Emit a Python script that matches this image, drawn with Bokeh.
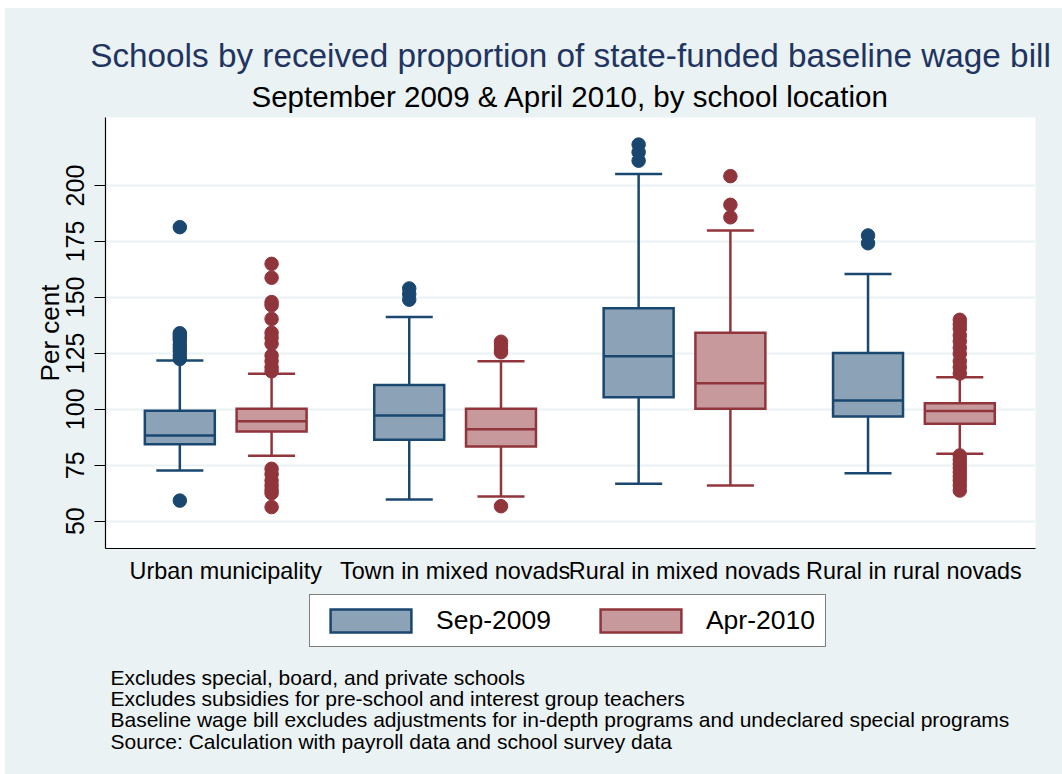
from bokeh.plotting import figure
from bokeh.layouts import column
from bokeh.models import Range1d, FixedTicker, Legend, LegendItem, Title, Label
from bokeh.embed import file_html
from bokeh.resources import INLINE

# ---------------- data ----------------
categories = ["Urban municipality", "Town in mixed novads",
              "Rural in mixed novads", "Rural in rural novads"]
series = ["Sep-2009", "Apr-2010"]

sep_low = [72.7, 59.7, 66.7, 71.4]
sep_q1 = [84.4, 86.4, 105.4, 96.8]
sep_med = [88.3, 97.2, 123.7, 103.9]
sep_q3 = [99.4, 110.9, 145.2, 125.2]
sep_high = [121.8, 141.2, 205.2, 160.5]
sep_outliers = [
    [181.4, 134.0, 133.0, 132.0, 131.0, 129.0, 127.5, 126.0, 124.0, 122.5, 59.2],
    [154.0, 151.5, 149.0],
    [218.3, 214.9, 211.1],
    [177.7, 174.2],
]

apr_low = [79.2, 61.0, 66.0, 80.1]
apr_q1 = [90.1, 83.4, 100.2, 93.5]
apr_med = [94.7, 91.1, 111.7, 99.2]
apr_q3 = [100.2, 100.2, 134.2, 102.7]
apr_high = [115.9, 121.5, 179.9, 114.3]
apr_outliers = [
    [165.0, 158.8, 147.9, 146.5, 140.4, 134.2, 132.0, 129.3, 124.0, 121.5,
     118.8, 117.0, 73.4, 71.0, 68.2, 66.0, 64.0, 62.5, 56.3],
    [130.2, 128.5, 126.5, 125.5, 56.7],
    [204.2, 191.4, 185.8],
    [140.0, 138.0, 136.0, 133.0, 130.4, 127.5, 124.8, 121.5, 118.8, 116.0,
     79.4, 77.5, 75.6, 73.8, 71.9, 70.0, 68.2, 66.0, 63.7],
]

y_ticks = [50, 75, 100, 125, 150, 175, 200]

title_text = "Schools by received proportion of state-funded baseline wage bill"
subtitle_text = "September 2009 & April 2010, by school location"
notes = [
    "Excludes special, board, and private schools",
    "Excludes subsidies for pre-school and interest group teachers",
    "Baseline wage bill excludes adjustments for in-depth programs and undeclared special programs",
    "Source: Calculation with payroll data and school survey data",
]

# ---------------- style ----------------
FONT = "Liberation Sans"
BG = "#EAF2F3"
styles = {
    "Sep-2009": dict(fill="#8CA3B7", line="#1A476F", offset=-0.2),
    "Apr-2010": dict(fill="#C7999C", line="#90353B", offset=0.2),
}
BOX_W = 0.305
CAP_W = 0.205
LW = 2.5
BORDER_L, BORDER_R = 100, 27

# ================= main chart =================
p = figure(width=1057, height=582, output_backend="svg", toolbar_location=None,
           x_range=Range1d(-0.524, 3.530), y_range=Range1d(37.8, 230.4),
           min_border_left=BORDER_L, min_border_right=BORDER_R, min_border_top=109,
           min_border_bottom=42)
p.background_fill_color = "white"
p.border_fill_color = BG
p.outline_line_color = None

data = {
    "Sep-2009": (sep_low, sep_q1, sep_med, sep_q3, sep_high, sep_outliers),
    "Apr-2010": (apr_low, apr_q1, apr_med, apr_q3, apr_high, apr_outliers),
}

for s in series:
    low, q1, med, q3, high, outs = data[s]
    st = styles[s]
    xs = [i + st["offset"] for i in range(len(categories))]
    p.segment(x0=xs, x1=xs, y0=q3, y1=high, line_color=st["line"], line_width=LW)
    p.segment(x0=xs, x1=xs, y0=low, y1=q1, line_color=st["line"], line_width=LW)
    p.segment(x0=[x - CAP_W / 2 for x in xs], x1=[x + CAP_W / 2 for x in xs],
              y0=high, y1=high, line_color=st["line"], line_width=LW)
    p.segment(x0=[x - CAP_W / 2 for x in xs], x1=[x + CAP_W / 2 for x in xs],
              y0=low, y1=low, line_color=st["line"], line_width=LW)
    p.quad(left=[x - BOX_W / 2 for x in xs], right=[x + BOX_W / 2 for x in xs],
           bottom=q1, top=q3, fill_color=st["fill"], line_color=st["line"],
           line_width=LW, line_join="miter")
    p.segment(x0=[x - BOX_W / 2 for x in xs], x1=[x + BOX_W / 2 for x in xs],
              y0=med, y1=med, line_color=st["line"], line_width=LW)
    ox, oy = [], []
    for x, o in zip(xs, outs):
        ox += [x] * len(o)
        oy += o
    p.scatter(ox, oy, size=13.5, fill_color=st["line"], line_color=st["line"])

# axes
p.xaxis.ticker = FixedTicker(ticks=list(range(len(categories))))
p.xaxis.major_label_overrides = {i: c for i, c in enumerate(categories)}
p.xaxis.major_tick_out = 0
p.xaxis.major_tick_in = 0
p.xaxis.minor_tick_out = 0
p.xaxis.minor_tick_in = 0
p.xaxis.major_label_text_font = FONT
p.xaxis.major_label_text_font_size = "23.4px"
p.xaxis.major_label_text_color = "black"
p.xaxis.major_label_standoff = 9
p.xaxis.axis_line_color = "black"
p.xaxis.axis_line_width = 1.2

p.yaxis.ticker = FixedTicker(ticks=y_ticks)
p.yaxis.major_label_orientation = "vertical"
p.yaxis.major_tick_out = 11
p.yaxis.major_tick_in = 0
p.yaxis.minor_tick_out = 0
p.yaxis.minor_tick_in = 0
p.yaxis.major_tick_line_color = "black"
p.yaxis.major_label_text_font = FONT
p.yaxis.major_label_text_font_size = "25px"
p.yaxis.major_label_text_color = "black"
p.yaxis.major_label_standoff = 10
p.yaxis.axis_label = "Per cent"
p.yaxis.axis_label_text_font = FONT
p.yaxis.axis_label_text_font_size = "26px"
p.yaxis.axis_label_text_font_style = "normal"
p.yaxis.axis_label_text_color = "black"
p.yaxis.axis_label_standoff = -1
p.yaxis.axis_line_color = "black"
p.yaxis.axis_line_width = 1.2

p.xgrid.grid_line_color = None
p.ygrid.ticker = FixedTicker(ticks=y_ticks)
p.ygrid.grid_line_color = BG
p.ygrid.grid_line_width = 2

# titles
p.add_layout(Title(text=subtitle_text, align="center", standoff=9,
                   text_font=FONT, text_font_size="29.5px",
                   text_font_style="normal", text_color="black"), "above")
p.add_layout(Title(text=title_text, align="center", standoff=0,
                   text_font=FONT, text_font_size="33.3px",
                   text_font_style="normal", text_color="#1F3461"), "above")

# ================= footer: legend and notes =================
TOP = 590      # page y where the footer begins
H = 774 - TOP
FR_L = 5 + BORDER_L            # page x of the frame's left edge
FR_R = 5 + 1057 - BORDER_R     # page x of the frame's right edge
f = figure(width=1057, height=H, output_backend="svg", toolbar_location=None,
           x_range=Range1d(FR_L, FR_R), y_range=Range1d(774, TOP),
           x_axis_location=None, y_axis_location=None,
           min_border_left=BORDER_L, min_border_right=BORDER_R, min_border_top=0,
           min_border_bottom=0)
f.background_fill_color = BG
f.border_fill_color = BG
f.outline_line_color = None
f.grid.visible = False

legend_items = []
for s in series:
    st = styles[s]
    # legend-only renderer, placed outside the visible range
    r = f.quad(left=[0], right=[1], top=[0], bottom=[1], fill_color=st["fill"],
               line_color=st["line"], line_width=LW, line_join="miter")
    legend_items.append(LegendItem(label=s, renderers=[r]))

legend = Legend(items=legend_items, orientation="horizontal",
                location=(309 - FR_L, 774 - 647), glyph_width=101, glyph_height=29,
                label_text_font=FONT, label_text_font_size="26.5px",
                label_text_color="black",
                label_standoff=15, spacing=39, padding=10, margin=0,
                border_line_color="black", border_line_width=1,
                background_fill_color="white", background_fill_alpha=1)
f.add_layout(legend, "center")

for t, yb in zip(notes, [676.7, 697.7, 719.3, 741.0]):
    f.add_layout(Label(x=110, y=yb, text=t, text_align="left",
                       text_baseline="alphabetic", text_font=FONT,
                       text_font_size="21px", text_color="black"))

layout = column(p, f, spacing=0, margin=(8, 0, 0, 5),
                styles={"background-color": BG})
open("out.html", "w").write(file_html(layout, INLINE))
